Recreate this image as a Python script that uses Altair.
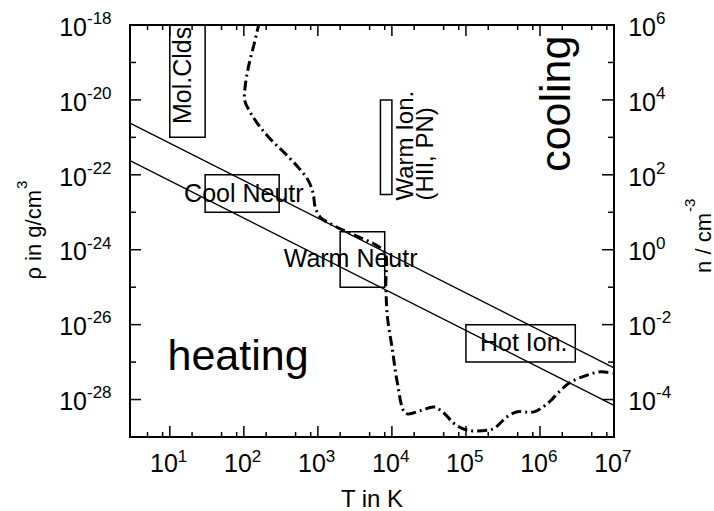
import altair as alt
import pandas as pd

# Temperature–density diagram of the interstellar medium phases
W, H = 484, 412
FONT = "Liberation Sans"

# ---- heating = cooling equilibrium curve ----
curve_T = [162, 138, 115, 104, 103, 125, 167, 240, 362, 543, 741, 865, 920,
           1080, 1610, 3370, 6270, 8110, 8280, 8710, 10200, 11900, 15400,
           24600, 37200, 50700, 69200, 1.05e5, 1.95e5, 2.4e5, 3.63e5, 4.95e5,
           8.32e5, 1.26e6, 1.91e6, 2.61e6, 4.37e6, 6.62e6, 9.7e6]
curve_rho = [1.2e-18, 3.16e-19, 7.4e-20, 2.19e-20, 9.5e-21, 4.3e-21, 1.86e-21,
             8.1e-22, 3.7e-22, 1.58e-22, 7.1e-23, 3.16e-23, 1.38e-23, 7.4e-24,
             4.5e-24, 2.3e-24, 1.3e-24, 8.0e-25, 1.0e-25, 1.58e-26, 2.04e-27,
             2.7e-28, 4.3e-29, 5.1e-29, 6.3e-29, 4.3e-29, 2.3e-29, 1.51e-29,
             1.51e-29, 1.70e-29, 3.5e-29, 4.7e-29, 4.7e-29, 7.8e-29, 1.78e-28,
             2.95e-28, 4.5e-28, 5.5e-28, 5.0e-28]

# ---- isobars (rho * T = const) ----
isobar_T = [2.9, 1e7]
isobar_high_rho = [2.4e-21, 7e-28]
isobar_low_rho = [2.4e-22, 7e-29]

# ---- phase regions ----
phase_T_min = [10, 30, 2000, 7000, 1e5]
phase_T_max = [30, 300, 8000, 1e4, 3e6]
phase_rho_min = [1e-21, 1e-23, 1e-25, 3e-23, 1e-27]
phase_rho_max = [1e-18, 1e-22, 3e-24, 1e-20, 1e-26]

# ---- phase labels ----
flat_labels = ["Cool Neutr", "Warm Neutr", "Hot Ion."]
flat_T = [100, 2770, 6.04e5]
flat_rho = [3.16e-23, 5.5e-25, 3.16e-27]
vert_labels = ["Warm Ion.", "(HII, PN)"]
vert_T = [15400, 28600]
vert_rho = [2.05e-23, 2.05e-23]
mol_label = ["Mol.Clds"]
mol_T = [15.2]
mol_rho = [4.5e-20]

# ---- ticks ----
T_major = [10, 100, 1e3, 1e4, 1e5, 1e6, 1e7]
T_major_exp = ["1", "2", "3", "4", "5", "6", "7"]
T_minor = [5, 8, 20, 50, 80, 200, 500, 800, 2e3, 5e3, 8e3, 2e4, 5e4, 8e4,
           2e5, 5e5, 8e5, 2e6, 5e6, 8e6]
rho_major = [1e-28, 1e-26, 1e-24, 1e-22, 1e-20, 1e-18]
rho_major_exp = ["-28", "-26", "-24", "-22", "-20", "-18"]
rho_minor = [1e-27, 1e-25, 1e-23, 1e-21, 1e-19]
n_major = [1e-4, 1e-2, 1, 1e2, 1e4, 1e6]
n_major_exp = ["-4", "-2", "0", "2", "4", "6"]

xs = alt.Scale(type="log", domain=[2.9, 1e7], nice=False)
ys = alt.Scale(type="log", domain=[1e-29, 1e-18], nice=False)
ns = alt.Scale(type="log", domain=[1e-5, 1e6], nice=False)


def X(f):
    return alt.X(f, type="quantitative", scale=xs, axis=None)


def Y(f):
    return alt.Y(f, type="quantitative", scale=ys, axis=None)


curve_df = pd.DataFrame({"T": curve_T, "rho": curve_rho,
                         "i": list(range(len(curve_T)))})
iso_df = pd.DataFrame({
    "T": isobar_T + isobar_T,
    "rho": isobar_high_rho + isobar_low_rho,
    "p": ["high"] * 2 + ["low"] * 2,
})
box_df = pd.DataFrame({"T0": phase_T_min, "T1": phase_T_max,
                       "r0": phase_rho_min, "r1": phase_rho_max})
flat_df = pd.DataFrame({"label": flat_labels, "T": flat_T, "rho": flat_rho})
vert_df = pd.DataFrame({"label": vert_labels, "T": vert_T, "rho": vert_rho})
mol_df = pd.DataFrame({"label": mol_label, "T": mol_T, "rho": mol_rho})
tmaj_df = pd.DataFrame({"T": T_major, "exp": T_major_exp})
tmin_df = pd.DataFrame({"T": T_minor})
rmaj_df = pd.DataFrame({"rho": rho_major, "exp": rho_major_exp})
rmin_df = pd.DataFrame({"rho": rho_minor})
nmaj_df = pd.DataFrame({"n": n_major, "exp": n_major_exp})

boxes = alt.Chart(box_df).mark_rect(
    fillOpacity=0, stroke="black", strokeWidth=1.5
).encode(
    x=X("T0"), x2="T1", y=Y("r0"), y2="r1"
)

isobars = alt.Chart(iso_df).mark_line(color="black", strokeWidth=1.3).encode(
    x=X("T"), y=Y("rho"), detail="p:N"
)

curve = alt.Chart(curve_df).mark_line(
    color="black", strokeWidth=3, strokeDash=[10, 4, 2, 4],
    interpolate="catmull-rom", clip=True
).encode(x=X("T"), y=Y("rho"), order="i:Q")

tick_style = dict(color="black", strokeWidth=1.5)
x_ticks = [
    alt.Chart(tmaj_df).mark_rule(**tick_style).encode(
        x=X("T"), y=alt.value(H), y2=alt.value(H - 11)),
    alt.Chart(tmin_df).mark_rule(**tick_style).encode(
        x=X("T"), y=alt.value(H), y2=alt.value(H - 5)),
    alt.Chart(tmaj_df).mark_rule(**tick_style).encode(
        x=X("T"), y=alt.value(0), y2=alt.value(11)),
    alt.Chart(tmin_df).mark_rule(**tick_style).encode(
        x=X("T"), y=alt.value(0), y2=alt.value(5)),
]
y_ticks = [
    alt.Chart(rmaj_df).mark_rule(**tick_style).encode(
        y=Y("rho"), x=alt.value(0), x2=alt.value(11)),
    alt.Chart(rmin_df).mark_rule(**tick_style).encode(
        y=Y("rho"), x=alt.value(0), x2=alt.value(6)),
    alt.Chart(rmaj_df).mark_rule(**tick_style).encode(
        y=Y("rho"), x=alt.value(W), x2=alt.value(W - 12)),
    alt.Chart(rmin_df).mark_rule(**tick_style).encode(
        y=Y("rho"), x=alt.value(W), x2=alt.value(W - 6)),
]

BASE_FS, EXP_FS = 25, 17
txt = dict(font=FONT, baseline="alphabetic")

# tick labels written as 10 with a raised exponent
x_labels = [
    alt.Chart(tmaj_df).mark_text(align="right", fontSize=BASE_FS, dx=8, **txt).encode(
        x=X("T"), y=alt.value(H + 35), text=alt.value("10")),
    alt.Chart(tmaj_df).mark_text(align="left", fontSize=EXP_FS, dx=8, **txt).encode(
        x=X("T"), y=alt.value(H + 25), text="exp:N"),
]
left_labels = [
    alt.Chart(rmaj_df).mark_text(align="right", fontSize=BASE_FS, dy=10.7, **txt).encode(
        x=alt.value(-43), y=Y("rho"), text=alt.value("10")),
    alt.Chart(rmaj_df).mark_text(align="left", fontSize=EXP_FS, dy=-1.2, **txt).encode(
        x=alt.value(-43), y=Y("rho"), text="exp:N"),
]
right_labels = [
    alt.Chart(nmaj_df).mark_text(align="right", fontSize=BASE_FS, dy=10.7, **txt).encode(
        x=alt.value(W + 42), y=alt.Y("n:Q", scale=ns, axis=None), text=alt.value("10")),
    alt.Chart(nmaj_df).mark_text(align="left", fontSize=EXP_FS, dy=-1.2, **txt).encode(
        x=alt.value(W + 42), y=alt.Y("n:Q", scale=ns, axis=None), text="exp:N"),
]

# region annotations
flat_text = alt.Chart(flat_df).mark_text(
    fontSize=25, baseline="middle", align="center", font=FONT
).encode(x=X("T"), y=Y("rho"), text="label:N")
vert_text = alt.Chart(vert_df).mark_text(
    fontSize=24, baseline="middle", align="left", angle=270, font=FONT
).encode(x=X("T"), y=Y("rho"), text="label:N")
mol_text = alt.Chart(mol_df).mark_text(
    fontSize=25, baseline="middle", align="center", angle=270, font=FONT
).encode(x=X("T"), y=Y("rho"), text="label:N")

heating = alt.Chart(pd.DataFrame({"T": [9.3], "rho": [6e-28]})).mark_text(
    fontSize=43, align="left", **txt
).encode(x=X("T"), y=Y("rho"), text=alt.value("heating"))
cooling = alt.Chart(pd.DataFrame({"T": [2.55e6], "rho": [7.9e-21]})).mark_text(
    fontSize=43, align="center", angle=270, **txt
).encode(x=X("T"), y=Y("rho"), text=alt.value("cooling"))

# axis titles
anchor = pd.DataFrame({"a": [0]})
titles = [
    alt.Chart(anchor).mark_text(fontSize=24, align="center", **txt).encode(
        x=alt.value(W / 2), y=alt.value(H + 70), text=alt.value("T in K")),
    alt.Chart(anchor).mark_text(fontSize=22, align="right", angle=270, **txt).encode(
        x=alt.value(-89), y=alt.value(165), text=alt.value("ρ in g/cm")),
    alt.Chart(anchor).mark_text(fontSize=15, align="left", angle=270, **txt).encode(
        x=alt.value(-103), y=alt.value(164), text=alt.value("3")),
    alt.Chart(anchor).mark_text(fontSize=22, align="right", angle=270, **txt).encode(
        x=alt.value(W + 96.5), y=alt.value(188), text=alt.value("n / cm")),
    alt.Chart(anchor).mark_text(fontSize=15, align="left", angle=270, **txt).encode(
        x=alt.value(W + 81), y=alt.value(187), text=alt.value("-3")),
]

chart = alt.layer(
    boxes, isobars, curve, *x_ticks, *y_ticks, *x_labels, *left_labels,
    *right_labels, flat_text, vert_text, mol_text, heating, cooling, *titles
).resolve_scale(
    y="independent"
).properties(
    width=W, height=H,
    padding={"left": 130, "top": 25, "right": 100, "bottom": 74},
    autosize=alt.AutoSizeParams(type="none"),
).configure(
    font=FONT
).configure_view(
    stroke="black", strokeWidth=2
)

chart.save("out.html", embed_options={"renderer": "svg", "actions": False})
